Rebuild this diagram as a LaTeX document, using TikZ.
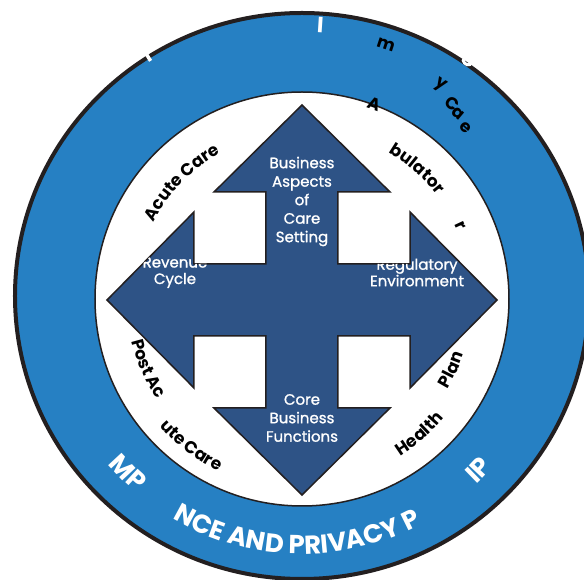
\documentclass[tikz,border=0pt]{standalone}
\usepackage{fontspec}
\setmainfont{Poppins}
\newfontfamily\arrowfont{Poppins}[FakeBold=1.2]
\usetikzlibrary{decorations.text}
\definecolor{ringblue}{HTML}{2680C3}
\definecolor{arrowblue}{HTML}{2E5386}
\definecolor{edgeblack}{HTML}{231F20}
\newcommand\rbf{\fontsize{17}{17}\selectfont\bfseries}
\newcommand\wbf{\fontsize{26}{26}\selectfont\bfseries}
\newcommand\cwtext[4]{%
  \path[decorate, decoration={text along path, text align=center, text color=#3, text={#4}}]
    ({#2+45}:#1) arc[start angle={#2+45}, end angle={#2-45}, radius=#1];}
\newcommand\ccwtext[4]{%
  \path[decorate, decoration={text along path, text align=center, text color=#3, text={#4}}]
    ({#2-45}:#1) arc[start angle={#2-45}, end angle={#2+45}, radius=#1];}
\newcommand\arrowpath{(0,195) -- (88,108) -- (36,108) -- (36,36) -- (108,36) -- (108,88) -- (195,0)
  -- (108,-88) -- (108,-36) -- (36,-36) -- (36,-108) -- (88,-108) -- (0,-195)
  -- (-88,-108) -- (-36,-108) -- (-36,-36) -- (-108,-36) -- (-108,-88) -- (-195,0)
  -- (-108,88) -- (-108,36) -- (-36,36) -- (-36,108) -- (-88,108) -- cycle}
\begin{document}
\begin{tikzpicture}[x=1pt,y=1pt,
  arrowtext/.style={text=white, align=center, inner sep=0pt, font=\arrowfont\fontsize{15}{18.5}\selectfont},
  sidetext/.style={arrowtext, font=\arrowfont\fontsize{15}{16.5}\selectfont},
  blk/.style={text=black, inner sep=0pt, font=\rbf},
  wht/.style={text=white, inner sep=0pt, font=\fontsize{22}{22}\selectfont\bfseries}]
\useasboundingbox (-302,-280) rectangle (282,300);
\clip (-302,-280) rectangle (282,300);
% rings
\draw[fill=ringblue, draw=edgeblack, line width=4] (0,4) ellipse [x radius=287, y radius=283];
\draw[fill=white, draw=edgeblack, line width=1.5] (0,1) circle [radius=207];
% four-way arrow
\draw[fill=arrowblue, draw=edgeblack, line width=1.5, line join=miter] \arrowpath;
\begin{scope}
  \clip \arrowpath;
  \node[arrowtext] (top) at (0,98.5) {Business\\Aspects\\of\\Care\\Setting};
  \node[sidetext] (left) at (-127,27.5) {Revenue\\Cycle};
  \node[sidetext] (right) at (115,27.5) {Regulatory\\Environment};
  \node[arrowtext] (bottom) at (0,-118) {Core\\Business\\Functions};
\end{scope}
% black labels in the white band
\cwtext{167.5}{135.7}{black}{|\rbf|Acute Care}
\cwtext{171}{48.7}{black}{|\rbf|bulator}
\ccwtext{175.5}{204}{black}{|\rbf|Post Ac}
\ccwtext{190.5}{232.7}{black}{|\rbf|ute Care}
\ccwtext{184.5}{311.2}{black}{|\rbf|Health}
\ccwtext{170.5}{335}{black}{|\rbf|Plan}
\node[blk, rotate=-20.2] (ca) at (69.8:209) {A};
\node[blk, rotate=-18.2] (cm) at (71.8:269) {m};
\node[blk, rotate=-32.7] (cy) at (57.3:255.5) {y};
\node[blk, rotate=-37.4] (cc) at (52.6:246.8) {C};
\node[blk, rotate=-40] (caa) at (50:242.8) {a};
\node[blk, rotate=-43.5] (ce) at (46.5:237) {e};
\node[blk, rotate=-65] (cr) at (25:174.5) {r};
% white labels in the blue ring
\ccwtext{254}{224.7}{white}{|\wbf|MP}
\ccwtext{254}{268.7}{white}{|\wbf|NCE AND PRIVACY P}
\ccwtext{254}{316}{white}{|\wbf|IP}
\node[wht, rotate=-3.8] (ci) at (86.2:275.6) {I};
\draw[white, line width=3.5] (-151.4,239.1) -- (-155.6,245.9);
\draw[white, line width=3, line cap=round] (161,240) .. controls (162,235) and (168,233) .. (170,238);
\end{tikzpicture}
\end{document}
